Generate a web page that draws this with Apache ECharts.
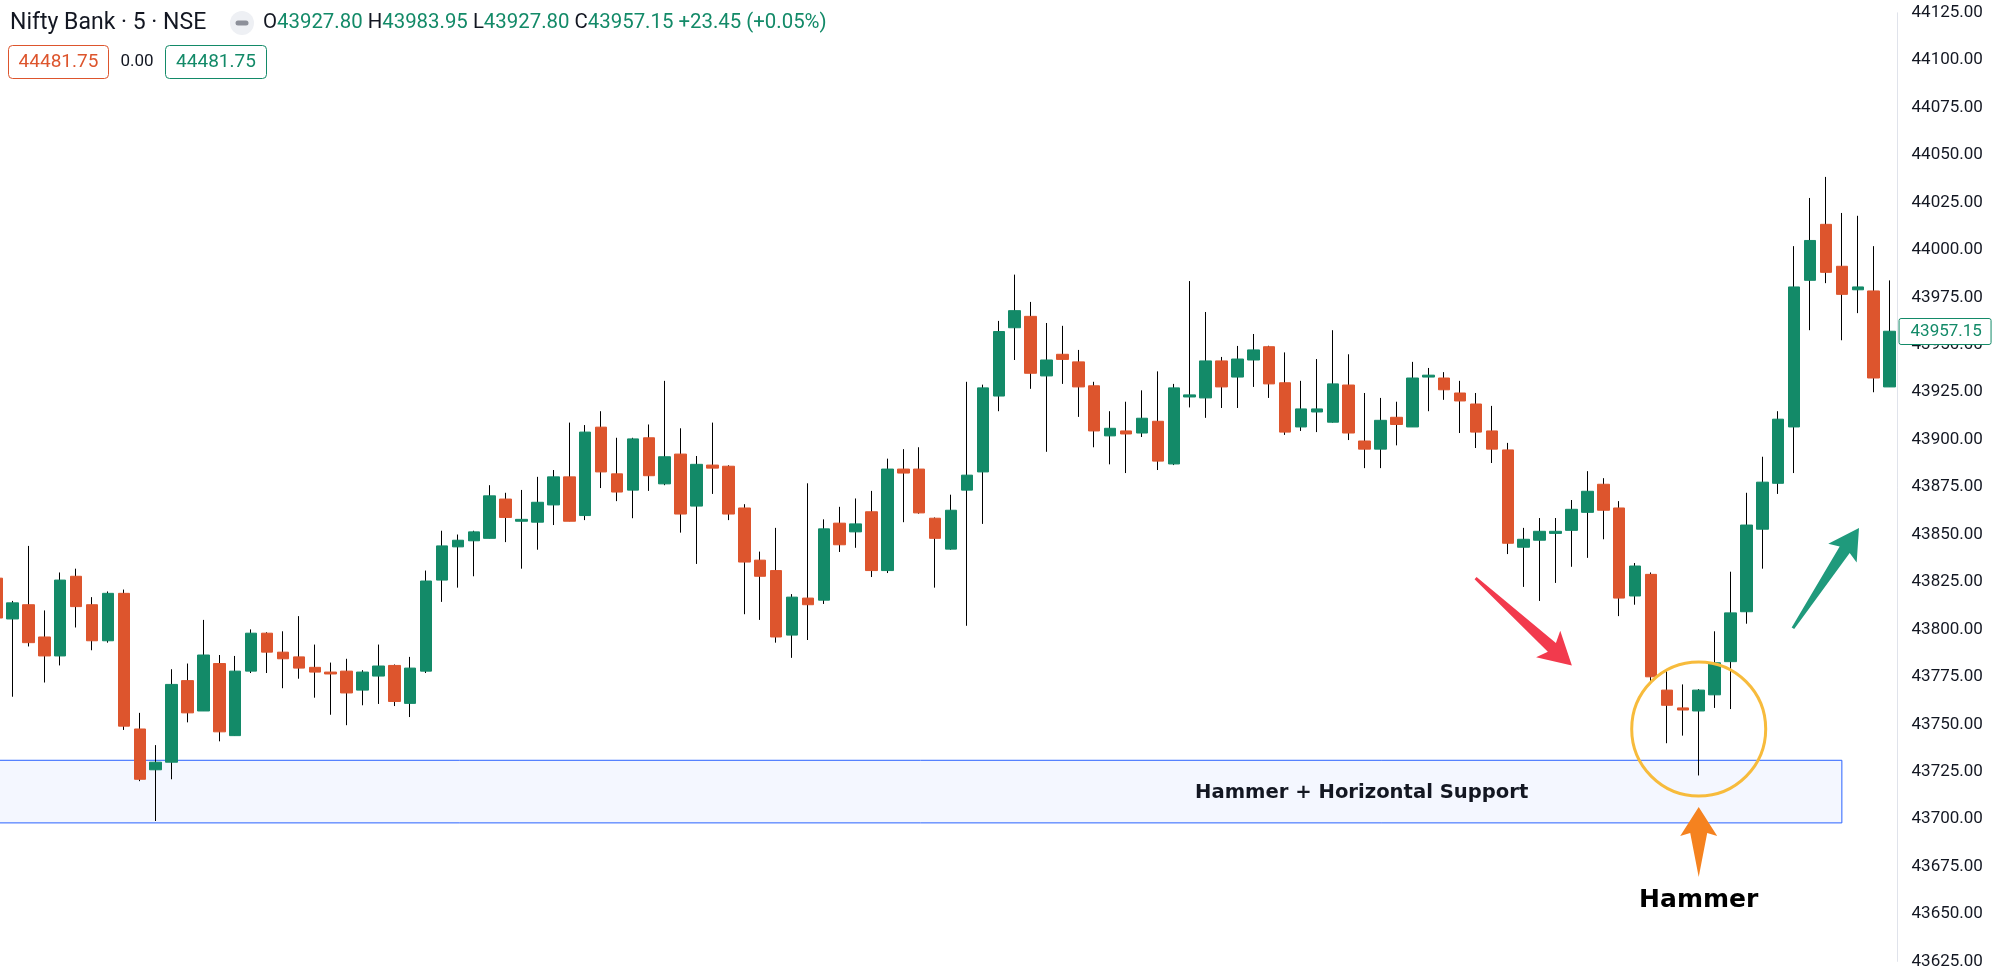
<!DOCTYPE html>
<html>
<head>
<meta charset="utf-8">
<script src="https://cdn.jsdelivr.net/npm/echarts@6.0.0/dist/echarts.min.js"></script>
<style>
html,body{margin:0;padding:0;background:#fff;}
#chart{width:2002px;height:978px;}
</style>
</head>
<body>
<div id="chart"></div>
<script>
// ---- data (5-minute candles, Nifty Bank) ----
const opens = [43827,43805.5,43813,43796,43786,43828,43813,43794,43819,43747.5,
43726,43730,43773,43757,43782,43744,43778,43798,43788,43785.5,
43780,43777.5,43778,43768,43775.4,43781,43761,43778,43826,43843.5,
43846.7,43848,43868.7,43857,43856.5,43865.6,43880.4,43860,43906.6,43882,
43873.4,43901,43876.7,43892.4,43865,43886.6,43886,43864,43836.5,43831,
43797,43816.5,43815.4,43856,43851.4,43862,43831,43884.5,43884.5,43858.6,
43842.3,43873.4,43883,43923,43959,43965,43933.6,43945,43941,43928.4,
43902,43904.6,43903.5,43909.7,43887.2,43922.5,43922,43941.5,43933,43942,
43949,43930,43906.7,43914.6,43909.2,43928.8,43899.3,43895,43911.8,43906.7,
43933,43932.5,43924.6,43918.8,43904.6,43894.6,43843.3,43847,43850.6,43852.2,
43861.7,43876.5,43864,43817.6,43829,43768,43758.6,43757,43765.5,43783,
43809.3,43852.8,43877,43906.7,43984,44013.5,43991.4,43979,43978.4,43927.8];
const closes = [43806,43814,43793,43786,43826,43812,43794,43819,43749,43721,
43730,43771,43756,43786.5,43746,43778,43798,43788,43784.5,43779.6,
43777.5,43776.5,43766.5,43777.5,43780.7,43762,43779.6,43825.5,43844,43847,
43851.4,43870.4,43859,43858,43867,43880.4,43857,43904,43883,43872.4,
43900.4,43881,43891,43860.8,43887,43885,43860.8,43835.5,43828,43796,
43817,43813,43853,43844.6,43855.6,43831,43884.5,43882.4,43861.4,43848,
43862.8,43881.3,43927.3,43957,43968,43935,43942,43942.3,43927.8,43904.6,
43906,43903,43911.3,43888.7,43927.3,43923.6,43941.5,43927.8,43942.5,43947.3,
43929.4,43904,43916.2,43916.2,43929.4,43903.5,43895,43910.2,43908,43932.5,
43934,43926.3,43920.4,43904,43895,43845.4,43847.5,43851.7,43851.7,43863.3,
43872.8,43862.8,43816.5,43833.4,43775,43760,43757.5,43768,43782.4,43808.7,
43855,43877.6,43910.8,43980.5,44005,43988.2,43976.6,43980.5,43932.5,43957.15];
const lows = [43800,43764.5,43791,43772,43781,43801,43789,43793,43747,43720,
43699,43721,43751,43757,43741,43744,43777,43777,43769,43774,
43764,43755,43749.5,43760,43760.7,43759.6,43753.8,43777,43814.5,43822,
43828,43848,43846,43832,43842,43855,43857,43857.6,43874.5,43867.6,
43858.6,43873,43876,43851,43834.5,43871.4,43857.6,43808,43805,43793,
43785,43794.4,43813.4,43840.8,43843,43827.6,43829.7,43856.5,43861,43822,
43842,43801.9,43855.6,43915,43942,43926.8,43893.6,43929.4,43912,43896,
43887,43882.4,43901.4,43884,43886.6,43917,43911.5,43916.7,43916.7,43927.8,
43922,43902.5,43904.6,43904,43909,43899.8,43885,43885,43897,43906.7,
43915,43921,43903.5,43895.6,43887.7,43839.7,43822.4,43815,43824.5,43833,
43837.7,43847.5,43807,43813,43772,43740,43744,43723,43758.6,43758,
43803,43832,43871.4,43882.4,43957.7,43982.5,43952.4,43966.7,43925,43927.8];
const highs = [43832,43815,43844,43810,43830,43832,43817,43820,43821,43756,
43739,43779,43782,43805,43786.5,43786,43800,43798.5,43799,43807,
43792,43782.5,43784.5,43778.5,43792,43781.5,43785.5,43831,43852,43850,
43852,43876,43872,43873.5,43880.4,43884,43909,43907.7,43915,43901,
43901,43908,43931,43906,43891.4,43909,43886.5,43866,43841,43853.5,
43818.6,43877,43858,43864.6,43869,43873,43890,43895,43896,43859,
43871,43930.5,43929,43962.6,43987,43972.6,43961.5,43960,43947.3,43930.5,
43915,43920,43926,43936,43929.4,43983.6,43967.3,43943.6,43949.4,43955.7,
43949.5,43946,43931,43942.5,43957.7,43945,43924.6,43922,43920,43941,
43937.8,43935.6,43931,43924.6,43917.8,43898.3,43853.5,43858.7,43858.7,43868.2,
43883.4,43879.7,43867.6,43835,43830,43778.6,43771,43768.5,43799,43830.4,
43872,43891,43915,44002,44027.4,44038.5,44019.5,44018,44002,43983.95];
const categories = opens.map((_, i) => String(i));
const yTicks = {min: 43625, max: 44125, step: 25};
const lastPrice = 43957.15;

// annotations (data space: [candle index, price])
const supportZone = {from: 0, to: 116, low: 43698, high: 43731};
const supportLabel = {at: [86, 43714], text: 'Hammer + Horizontal Support'};
const hammerCircle = [107, 43747.5];
const hammerArrow = [107, 43688];
const hammerLabel = {at: [107, 43658], text: 'Hammer'};
const downArrow = [96, 43804];
const upArrow = [115, 43827];

const UP = '#138a68', DOWN = '#dd552d', INK = '#131722';

const wickData = opens.map((o, i) => [o, closes[i], lows[i], highs[i]]);
const bodyData = opens.map((o, i) => [o, closes[i], Math.min(o, closes[i]), Math.max(o, closes[i])]);

const chart = echarts.init(document.getElementById('chart'));
const bw = 1908.9 / categories.length;

const headerGraphics = [
  {type: 'text', x: 10, y: 23, style: {text: 'Nifty Bank · 5 · NSE', fontSize: 23, fontFamily: 'Roboto', fill: INK, verticalAlign: 'middle'}},
  {type: 'circle', shape: {cx: 242, cy: 23, r: 12}, style: {fill: '#eef0f4'}},
  {type: 'rect', shape: {x: 235.5, y: 20.5, width: 13, height: 5, r: 2.5}, style: {fill: '#8d909a'}},
  {type: 'text', x: 263, y: 23, style: {
    verticalAlign: 'middle', fontFamily: 'Roboto', fontSize: 20.4,
    text: '{k|O}{v|43927.80} {k|H}{v|43983.95} {k|L}{v|43927.80} {k|C}{v|43957.15} {v|+23.45 (+0.05%)}',
    rich: {k: {fill: INK, fontSize: 20.4, fontFamily: 'Roboto'}, v: {fill: UP, fontSize: 20.4, fontFamily: 'Roboto'}}
  }},
  {type: 'rect', shape: {x: 8.5, y: 45.5, width: 100, height: 33, r: 4}, style: {fill: '#fff', stroke: DOWN, lineWidth: 1}},
  {type: 'text', x: 58.5, y: 62, style: {text: '44481.75', fontSize: 19, fontFamily: 'Roboto', fill: DOWN, align: 'center', verticalAlign: 'middle'}},
  {type: 'text', x: 137, y: 62, style: {text: '0.00', fontSize: 17, fontFamily: 'Roboto', fill: INK, align: 'center', verticalAlign: 'middle'}},
  {type: 'rect', shape: {x: 165.5, y: 45.5, width: 101, height: 33, r: 4}, style: {fill: '#fff', stroke: UP, lineWidth: 1}},
  {type: 'text', x: 216, y: 62, style: {text: '44481.75', fontSize: 19, fontFamily: 'Roboto', fill: UP, align: 'center', verticalAlign: 'middle'}}
];

chart.setOption({
  animation: false,
  backgroundColor: '#ffffff',
  grid: {left: -11.35, right: 104.45, top: 12.8, bottom: 16.6, containLabel: false, outerBoundsMode: 'none'},
  xAxis: {
    type: 'category', data: categories, boundaryGap: true,
    axisLine: {show: false}, axisTick: {show: false}, axisLabel: {show: false}, splitLine: {show: false}
  },
  yAxis: {
    type: 'value', position: 'right', scale: true,
    min: yTicks.min, max: yTicks.max, interval: yTicks.step,
    axisLine: {show: true, lineStyle: {color: '#e0e3eb', width: 1}},
    axisTick: {show: false},
    splitLine: {show: false},
    axisLabel: {
      margin: 14, color: INK, fontSize: 17, fontFamily: 'Roboto',
      formatter: v => v.toFixed(2), showMinLabel: true, showMaxLabel: true
    }
  },
  graphic: headerGraphics,
  series: [
    {
      name: 'zone', type: 'line', data: [], z: 1, silent: true,
      markArea: {
        silent: true,
        itemStyle: {color: 'rgba(41,98,255,0.05)', borderColor: '#2962ff', borderWidth: 1},
        data: [[{coord: [supportZone.from, supportZone.low]}, {coord: [supportZone.to, supportZone.high]}]]
      }
    },
    {
      name: 'wick', type: 'candlestick', data: wickData, z: 2, barWidth: 1,
      itemStyle: {color: '#000', color0: '#000', borderColor: '#000', borderColor0: '#000', borderWidth: 1}
    },
    {
      name: 'body', type: 'candlestick', data: bodyData, z: 3, barWidth: Math.round(bw * 0.76),
      itemStyle: {color: UP, color0: DOWN, borderColor: UP, borderColor0: DOWN, borderWidth: 1}
    },
    {
      name: 'notes', type: 'line', data: [], z: 5, silent: true,
      markPoint: {
        silent: true,
        data: [
          {coord: supportLabel.at, symbol: 'rect', symbolSize: 1, itemStyle: {color: 'rgba(0,0,0,0)'},
           label: {show: true, position: 'inside', offset: [-3, 0], formatter: supportLabel.text, color: INK, fontSize: 19.6, fontWeight: 'bold', fontFamily: 'DejaVu Sans'}},
          {coord: hammerLabel.at, symbol: 'rect', symbolSize: 1, itemStyle: {color: 'rgba(0,0,0,0)'},
           label: {show: true, position: 'inside', offset: [0, 2], formatter: hammerLabel.text, color: '#000', fontSize: 25, fontWeight: 'bold', fontFamily: 'DejaVu Sans'}},
          {coord: hammerCircle, symbol: 'circle', symbolSize: 134,
           itemStyle: {color: 'rgba(0,0,0,0)', borderColor: '#f7bb3c', borderWidth: 3}, label: {show: false}},
          {coord: hammerArrow, symbol: 'path://M18.5 0 L37 29 L27 26 L18.5 70 L10 26 L0 29 Z', symbolSize: [37, 70],
           itemStyle: {color: '#f5821f'}, label: {show: false}},
          {coord: downArrow, symbol: 'path://M18 0 L36 32 L24 27 L19.5 130 L16.5 130 L12 27 L0 32 Z', symbolSize: [36, 130], symbolRotate: -132.2,
           itemStyle: {color: '#f23a4d'}, label: {show: false}},
          {coord: upArrow, symbol: 'path://M17 0 L34 30 L23 26 L18.5 120 L15.5 120 L11 26 L0 30 Z', symbolSize: [34, 120], symbolRotate: -33.4,
           itemStyle: {color: '#1f9a7c'}, label: {show: false}}
        ]
      }
    }
  ]
});

// last-price tag on the price axis, placed through the axis scale
const priceY = chart.convertToPixel({yAxisIndex: 0}, lastPrice);
const axisX = chart.convertToPixel({xAxisIndex: 0}, categories.length - 1) + bw / 2;
chart.setOption({
  graphic: headerGraphics.concat([
    {type: 'rect', z: 100, shape: {x: axisX + 1.5, y: Math.round(priceY) - 12.5, width: 92, height: 26, r: 2},
     style: {fill: '#fff', stroke: UP, lineWidth: 1}},
    {type: 'text', z: 101, x: axisX + 13, y: Math.round(priceY) + 0.5,
     style: {text: lastPrice.toFixed(2), fontSize: 17, fontFamily: 'Roboto', fill: UP, verticalAlign: 'middle'}}
  ])
});
</script>
</body>
</html>
